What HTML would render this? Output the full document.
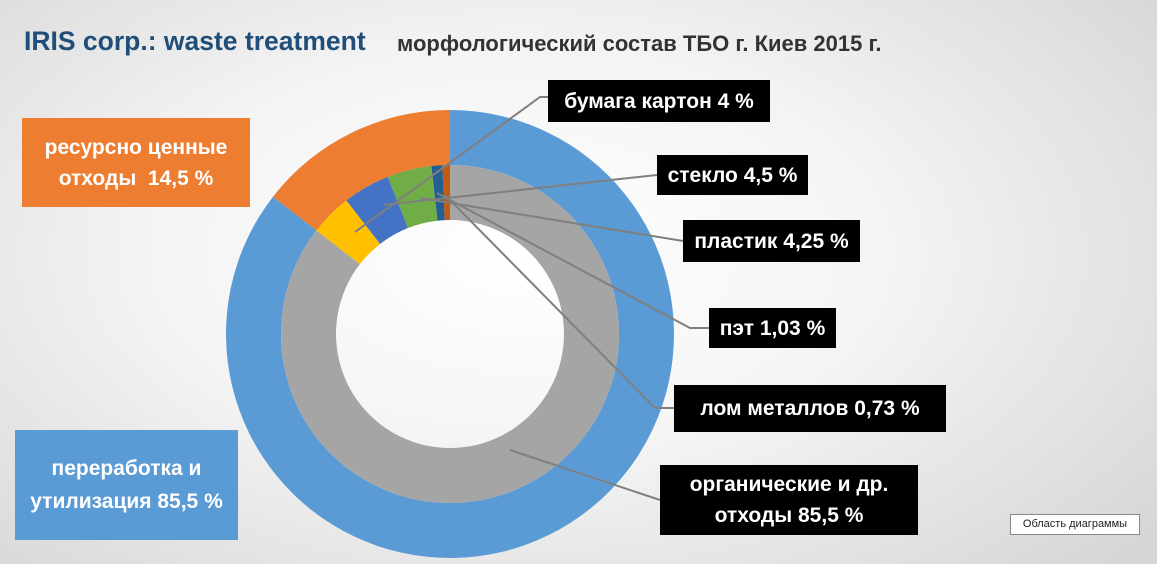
<!DOCTYPE html>
<html><head><meta charset="utf-8"><style>
html,body{margin:0;padding:0}
body{width:1157px;height:564px;overflow:hidden;position:relative;font-family:"Liberation Sans","DejaVu Sans",sans-serif;
background:radial-gradient(ellipse 70% 80% at 45% 45%,#ffffff 0%,#f4f4f4 45%,#d6d6d6 100%)}
.t{position:absolute;font-weight:bold;white-space:nowrap}
.b{position:absolute;background:#000;color:#fff;font-weight:bold;font-size:21px;display:flex;align-items:center;justify-content:center;text-align:center;line-height:31px;white-space:nowrap}
svg{position:absolute;left:0;top:0}
</style></head><body>
<svg width="1157" height="564" id="s"></svg>
<div class="t" style="left:24px;top:26px;font-size:26.5px;color:#1F4E79">IRIS corp.: waste treatment</div>
<div class="t" style="left:397px;top:31px;font-size:22px;color:#333">морфологический состав ТБО г. Киев 2015 г.</div>
<div class="b" style="left:22px;top:118px;width:228px;height:89px;background:#ED7D31">ресурсно ценные<br>отходы&nbsp; 14,5 %</div>
<div class="b" style="left:15px;top:430px;width:223px;height:110px;background:#5B9BD5;font-size:21px;line-height:33px">переработка и<br>утилизация 85,5 %</div>
<div class="b" style="left:548px;top:80px;width:222px;height:42px">бумага картон 4 %</div>
<div class="b" style="left:657px;top:155px;width:151px;height:40px">стекло 4,5 %</div>
<div class="b" style="left:683px;top:220px;width:177px;height:42px">пластик 4,25 %</div>
<div class="b" style="left:709px;top:308px;width:127px;height:40px">пэт 1,03 %</div>
<div class="b" style="left:674px;top:385px;width:272px;height:47px">лом металлов 0,73 %</div>
<div class="b" style="left:660px;top:465px;width:258px;height:70px">органические и др.<br>отходы 85,5 %</div>
<div style="position:absolute;left:1010px;top:514px;width:128px;height:19px;background:#fff;border:1px solid #888;font-size:11px;line-height:19px;text-align:center;color:#222">Область диаграммы</div>
<script>
var s=document.getElementById('s'),cx=450,cy=334;
function pt(r,a){a=a*Math.PI/180;return [cx+r*Math.sin(a),cy-r*Math.cos(a)];}
function arc(R,r,a0,a1,c){var p1=pt(R,a0),p2=pt(R,a1),p3=pt(r,a1),p4=pt(r,a0),l=Math.abs(a1-a0)>180?1:0;
var d='M'+p1+' A'+R+','+R+' 0 '+l+' 1 '+p2+' L'+p3+' A'+r+','+r+' 0 '+l+' 0 '+p4+'Z';
s.innerHTML+='<path d="'+d+'" fill="'+c+'"/>';}
arc(224,169,0,307.8,'#5B9BD5');arc(224,169,307.8,360,'#ED7D31');
var sl=[[0.73,'#C55A11'],[1.03,'#255E91'],[4.25,'#70AD47'],[4.5,'#4472C4'],[4,'#FFC000']];
var a=360;sl.forEach(function(x){var b=a-x[0]*3.6;arc(169,114,b,a,x[1]);a=b;});
arc(169,114,0,a,'#A5A5A5');
var L=[[[555,97],[540,97],[355,232]],[[657,175],[383,205]],[[683,241],[420,198]],[[709,328],[690,328],[437,193]],[[674,408],[655,408],[445,195]],[[660,500],[510,450]]];
L.forEach(function(p){s.innerHTML+='<polyline points="'+p.join(' ')+'" fill="none" stroke="#7f7f7f" stroke-width="2"/>';});
</script>
</body></html>
